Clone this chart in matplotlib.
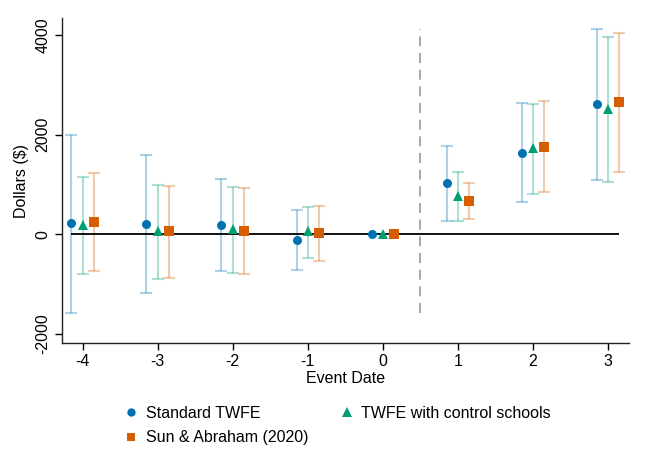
import numpy as np
import matplotlib
matplotlib.use("Agg")
import matplotlib.pyplot as plt

plt.rcParams['font.family'] = ['Liberation Sans', 'DejaVu Sans']

# event times
event = np.array([-4, -3, -2, -1, 0, 1, 2, 3])

# Standard TWFE
twfe_est = [221, 207, 181, -115, 0, 1026, 1642, 2622]
twfe_lo = [-1577, -1175, -745, -718, 0, 262, 650, 1099]
twfe_hi = [2004, 1590, 1119, 483, 0, 1783, 2636, 4137]

# TWFE with control schools
ctrl_est = [190, 72, 113, 72, 0, 777, 1730, 2527]
ctrl_lo = [-805, -893, -773, -471, 0, 274, 811, 1058]
ctrl_hi = [1159, 992, 958, 555, 0, 1254, 2622, 3964]

# Sun & Abraham (2020)
sa_est = [247, 66, 66, 20, 0, 664, 1757, 2656]
sa_lo = [-732, -873, -805, -537, 0, 302, 851, 1254]
sa_hi = [1233, 978, 932, 569, 0, 1032, 2676, 4057]

series = [
    ("Standard TWFE", twfe_est, twfe_lo, twfe_hi, "#0072B2", "o", -0.15, 6.5),
    ("TWFE with control schools", ctrl_est, ctrl_lo, ctrl_hi, "#009E73", "^", 0.0, 7.5),
    ("Sun & Abraham (2020)", sa_est, sa_lo, sa_hi, "#D55E00", "s", 0.15, 6.5),
]

fs = 11.5

fig = plt.figure(figsize=(6.48, 4.72), dpi=100)
ax = fig.add_axes([0.095, 0.273, 0.876, 0.689])

handles = {}
for name, est, lo, hi, col, mk, off, ms in series:
    est = np.array(est)
    lo = np.array(lo)
    hi = np.array(hi)
    x = event + off
    mask = event != 0
    ax.errorbar(x[mask], est[mask], yerr=[est[mask] - lo[mask], hi[mask] - est[mask]],
                fmt='none', ecolor=col, alpha=0.32, elinewidth=1.5, capsize=4,
                capthick=1.5, zorder=2)
    h, = ax.plot(x, est, linestyle='none', marker=mk, color=col, markersize=ms,
                 markeredgewidth=0, zorder=4, label=name)
    handles[name] = h

# zero line and treatment line
offs = [s[6] for s in series]
ax.hlines(0, event.min() + min(offs), event.max() + max(offs), color='black',
          linewidth=1.3, zorder=3)
all_lo = min(min(twfe_lo), min(ctrl_lo), min(sa_lo))
all_hi = max(max(twfe_hi), max(ctrl_hi), max(sa_hi))
ax.vlines(0.5, all_lo, all_hi, color='#999999', linestyle=(0, (6, 4)),
          linewidth=1.2, zorder=1)

ax.set_xlim(-4.28, 3.28)
ax.set_ylim(-2190, 4350)
ax.set_xticks(event)
ax.set_xticklabels([str(e) for e in event])
ax.set_yticks([-2000, 0, 2000, 4000])
ax.set_yticklabels(['-2000', '0', '2000', '4000'], rotation=90, va='center')
ax.tick_params(direction='out', length=5, width=1, labelsize=fs, colors='black', pad=3)
ax.spines['top'].set_visible(False)
ax.spines['right'].set_visible(False)
for sp in ['left', 'bottom']:
    ax.spines[sp].set_linewidth(1)
    ax.spines[sp].set_color('#222222')

ax.set_xlabel('Event Date', fontsize=fs, labelpad=1)
ax.set_ylabel('Dollars ($)', fontsize=fs, labelpad=5)

order = ["Standard TWFE", "Sun & Abraham (2020)", "TWFE with control schools"]
fig.legend([handles[n] for n in order], order, loc='upper left',
           bbox_to_anchor=(0.183, 0.154), ncol=2, frameon=False, fontsize=fs,
           handlelength=0.8, handletextpad=0.5, columnspacing=2.0,
           labelspacing=0.6, borderaxespad=0, markerscale=0.92)

fig.savefig("out.png", dpi=100)
